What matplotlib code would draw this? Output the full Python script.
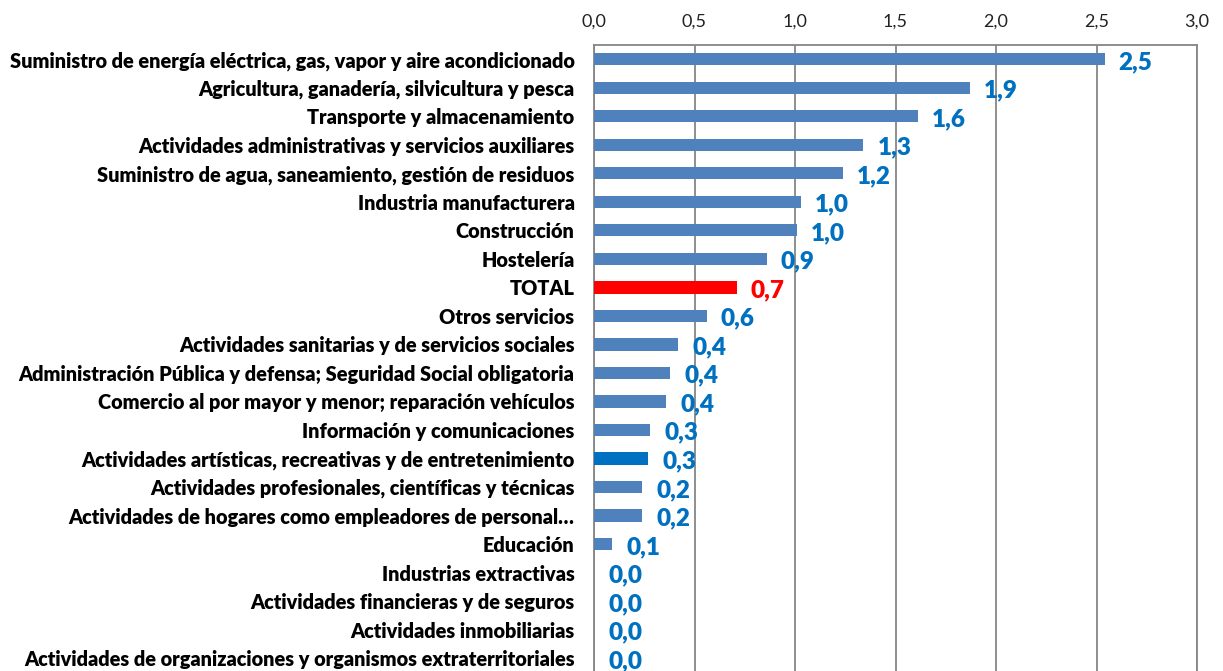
import matplotlib.pyplot as plt
import numpy as np

plt.rcParams['font.family'] = ['Lato', 'DejaVu Sans']

# datos (de arriba a abajo)
categorias = [
    'Suministro de energía eléctrica, gas, vapor y aire acondicionado',
    'Agricultura, ganadería, silvicultura y pesca',
    'Transporte y almacenamiento',
    'Actividades administrativas y servicios auxiliares',
    'Suministro de agua, saneamiento, gestión de residuos',
    'Industria manufacturera',
    'Construcción',
    'Hostelería',
    'TOTAL',
    'Otros servicios',
    'Actividades sanitarias y de servicios sociales',
    'Administración Pública y defensa; Seguridad Social obligatoria',
    'Comercio al por mayor y menor; reparación vehículos',
    'Información y comunicaciones',
    'Actividades artísticas, recreativas y de entretenimiento',
    'Actividades profesionales, científicas y técnicas',
    'Actividades de hogares como empleadores de personal…',
    'Educación',
    'Industrias extractivas',
    'Actividades financieras y de seguros',
    'Actividades inmobiliarias',
    'Actividades de organizaciones y organismos extraterritoriales',
]
valores = [2.54, 1.87, 1.61, 1.34, 1.24, 1.03, 1.01, 0.86, 0.71, 0.56, 0.42,
           0.38, 0.36, 0.28, 0.27, 0.24, 0.24, 0.09, 0.0, 0.0, 0.0, 0.0]
ticks_x = [0.0, 0.5, 1.0, 1.5, 2.0, 2.5, 3.0]

AZUL = '#4F81BD'
AZUL_OSC = '#0070C0'
ROJO = '#FF0000'
colores = []
etiq_col = []
for c in categorias:
    if c == 'TOTAL':
        colores.append(ROJO); etiq_col.append(ROJO)
    elif c.startswith('Actividades artísticas'):
        colores.append(AZUL_OSC); etiq_col.append(AZUL_OSC)
    else:
        colores.append(AZUL); etiq_col.append(AZUL_OSC)

fig = plt.figure(figsize=(12.23, 6.71), dpi=100)
ax = fig.add_axes([594 / 1223, -0.002, (1197 - 594) / 1223, 1 - 45 / 671 + 0.002])

y = np.arange(len(categorias))
ax.barh(y, valores, height=0.43, color=colores, zorder=3)

for yi, v, col in zip(y, valores, etiq_col):
    ax.text(v + 0.07, yi + 0.1, f'{v:.1f}'.replace('.', ','), color=col,
            fontsize=17.5, fontweight='heavy', ha='left', va='center', zorder=4)

ax.set_xlim(0, 3.0)
ax.set_ylim(len(categorias) - 0.5, -0.5)
ax.set_xticks(ticks_x)
ax.set_xticklabels([f'{t:.1f}'.replace('.', ',') for t in ticks_x], fontsize=13, color='#222222')
ax.xaxis.tick_top()
ax.tick_params(axis='x', length=0, pad=11)
ax.set_yticks(y)
ax.set_yticklabels(categorias, fontsize=14.3, fontweight='heavy')
ax.tick_params(axis='y', length=0, pad=14)

ax.grid(axis='x', color='#868686', lw=1.3, zorder=0)
for s in ['left', 'top', 'right', 'bottom']:
    ax.spines[s].set_color('#868686')
    ax.spines[s].set_linewidth(1.3)

fig.savefig('out.png', dpi=100)
